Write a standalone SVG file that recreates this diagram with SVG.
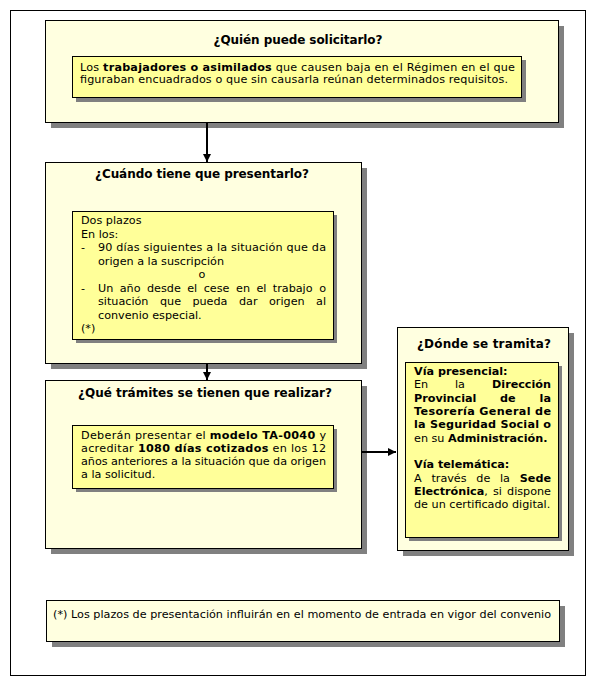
<svg xmlns="http://www.w3.org/2000/svg" width="590" height="682" viewBox="0 0 590 682">
<style>
text{font-family:"DejaVu Sans","Verdana",sans-serif;font-size:11.2px;fill:#000}
.t{font-weight:bold;font-size:12px;text-anchor:middle}
.b{font-weight:bold}
.e{text-anchor:end}
.outer{fill:#FFFFE0;stroke:#000;stroke-width:1}
.inner{fill:#FFFF99;stroke:#000;stroke-width:1}
.sh{fill:#808080}
.ln{stroke:#000;stroke-width:2;fill:none}
.c{text-anchor:middle}
</style>
<defs>
<marker id="ah" viewBox="0 0 8 8" refX="8" refY="4" markerWidth="4" markerHeight="4" orient="auto" markerUnits="strokeWidth">
<path d="M0,0 L8,4 L0,8 z" fill="#000"/>
</marker>
</defs>
<rect x="10.5" y="10.5" width="575" height="665" fill="#fff" stroke="#000" stroke-width="1"/>

<g id="n-quien">
<rect class="sh" x="51" y="26" width="513" height="102"/>
<rect class="outer" x="45.5" y="20.5" width="513" height="102"/>
<text class="t" x="298" y="44" textLength="169">¿Quién puede solicitarlo?</text>
<rect class="sh" x="76" y="60" width="450" height="42"/>
<rect class="inner" x="72.5" y="56.5" width="449" height="41"/>
<text x="80" y="71" textLength="435" lengthAdjust="spacing">Los <tspan class="b">trabajadores o asimilados</tspan> que causen baja en el Régimen en el que</text>
<text x="80" y="83" textLength="428" lengthAdjust="spacing">figuraban encuadrados o que sin causarla reúnan determinados requisitos.</text>
</g>

<g id="n-cuando">
<rect class="sh" x="51" y="168" width="316" height="201"/>
<rect class="outer" x="45.5" y="162.5" width="316" height="201"/>
<text class="t" x="202" y="178" textLength="214">¿Cuándo tiene que presentarlo?</text>
<rect class="sh" x="76" y="215" width="261" height="128"/>
<rect class="inner" x="72.5" y="211.5" width="261" height="128"/>
<text x="81" y="224">Dos plazos</text>
<text x="81" y="237.5">En los:</text>
<text x="81" y="251">-</text>
<text x="98" y="251" textLength="228" lengthAdjust="spacing">90 días siguientes a la situación que da</text>
<text x="98" y="264.5">origen a la suscripción</text>
<text class="c" x="202" y="278">o</text>
<text x="81" y="291.5">-</text>
<text y="291.5"><tspan x="98">Un</tspan><tspan x="119.7">año</tspan><tspan x="147">desde</tspan><tspan x="187.2">el</tspan><tspan x="203.7">cese</tspan><tspan x="236">en</tspan><tspan x="256.4">el</tspan><tspan x="272.8">trabajo</tspan></text>
<text class="e" x="326" y="291.5">o</text>
<text y="305"><tspan x="98">situación</tspan><tspan x="160">que</tspan><tspan x="192.4">pueda</tspan><tspan x="239">dar</tspan><tspan x="269">origen</tspan></text>
<text class="e" x="326" y="305">al</text>
<text x="98" y="318.5">convenio especial.</text>
<text x="81" y="332">(*)</text>
</g>

<g id="n-tramites">
<rect class="sh" x="51" y="386" width="316" height="168"/>
<rect class="outer" x="45.5" y="380.5" width="316" height="168"/>
<text class="t" x="205" y="397" textLength="254">¿Qué trámites se tienen que realizar?</text>
<rect class="sh" x="76" y="429" width="261" height="63"/>
<rect class="inner" x="72.5" y="425.5" width="261" height="63"/>
<text x="81" y="439" textLength="245" lengthAdjust="spacing">Deberán presentar el <tspan class="b">modelo TA-0040</tspan>  y</text>
<text x="81" y="452" textLength="245" lengthAdjust="spacing">acreditar <tspan class="b">1080 días cotizados</tspan> en los 12</text>
<text x="81" y="465" textLength="245" lengthAdjust="spacing">años anteriores a la situación que da origen</text>
<text x="81" y="478">a la solicitud.</text>
</g>

<g id="n-donde">
<rect class="sh" x="403" y="333" width="171" height="223"/>
<rect class="outer" x="397.5" y="327.5" width="171" height="223"/>
<text class="t" x="484" y="348" textLength="134">¿Dónde se tramita?</text>
<rect class="sh" x="409" y="366" width="153" height="175"/>
<rect class="inner" x="405.5" y="362.5" width="153" height="175"/>
<text class="b" x="414" y="375">Vía presencial:</text>
<text y="388.3"><tspan x="414">En</tspan><tspan x="455">la</tspan></text>
<text class="b e" x="551" y="388.3">Dirección</text>
<text class="b" y="401.7"><tspan x="414">Provincial</tspan><tspan x="500">de</tspan></text>
<text class="b e" x="551" y="401.7">la</text>
<text class="b" x="414" y="415" textLength="137" lengthAdjust="spacing">Tesorería General de</text>
<text class="b" x="414" y="428.3" textLength="137" lengthAdjust="spacing">la Seguridad Social o</text>
<text x="414" y="441.7">en su <tspan class="b">Administración.</tspan></text>
<text class="b" x="414" y="468.3">Vía telemática:</text>
<text y="481.7"><tspan x="414">A</tspan><tspan x="431.4">través</tspan><tspan x="476.3">de</tspan><tspan x="500">la</tspan></text>
<text class="b e" x="551" y="481.7">Sede</text>
<text y="495"><tspan x="414" class="b">Electrónica</tspan>,<tspan x="493">si</tspan></text>
<text class="e" x="551" y="495">dispone</text>
<text x="414" y="508.3">de un certificado digital.</text>
</g>

<g id="n-nota">
<rect class="sh" x="52" y="606" width="513" height="41"/>
<rect class="outer" x="46.5" y="600.5" width="513" height="41"/>
<text x="53" y="618" textLength="498" lengthAdjust="spacing">(*) Los plazos de presentación influirán en el momento de entrada en vigor del convenio</text>
</g>

<g id="connectors">
<line class="ln" x1="207" y1="123" x2="207" y2="162" marker-end="url(#ah)"/>
<line class="ln" x1="207" y1="364" x2="207" y2="380" marker-end="url(#ah)"/>
<line class="ln" x1="362" y1="452" x2="396" y2="452" marker-end="url(#ah)"/>
</g>
</svg>
